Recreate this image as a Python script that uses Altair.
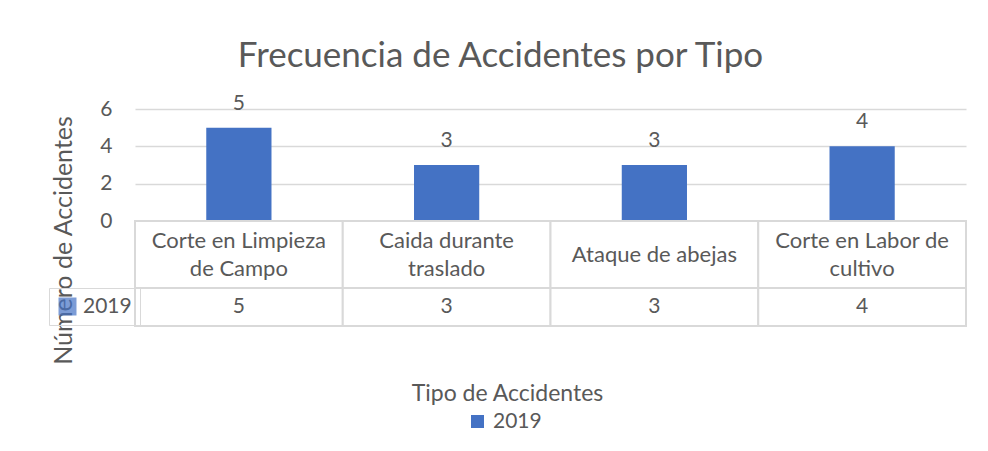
import altair as alt
import pandas as pd

# ---- data ----
categories = [
    "Corte en Limpieza de Campo",
    "Caida durante traslado",
    "Ataque de abejas",
    "Corte en Labor de cultivo",
]
category_lines = [
    "Corte en Limpieza\nde Campo",
    "Caida durante\ntraslado",
    "Ataque de abejas",
    "Corte en Labor de\ncultivo",
]
values_2019 = [5, 3, 3, 4]
series_name = "2019"
y_ticks = [0, 2, 4, 6]

# ---- styles ----
FONT = "Lato"
TEXT = "#595959"
GRID = "#d9d9d9"
BLUE = "#4472C4"
W = 831

df = pd.DataFrame({
    "tipo": categories,
    "etiqueta": category_lines,
    "lineas": [s.count("\n") + 1 for s in category_lines],
    "valor": values_2019,
    "serie": [series_name] * len(categories),
})

x_bars = alt.X("tipo:N", sort=categories,
               scale=alt.Scale(paddingInner=0.686, paddingOuter=0.343), axis=None)
x_cells = alt.X("tipo:N", sort=categories,
                scale=alt.Scale(paddingInner=0, paddingOuter=0), axis=None)
x_cells_axis = alt.X("tipo:N", sort=categories,
                     scale=alt.Scale(paddingInner=0, paddingOuter=0),
                     axis=alt.Axis(title="Tipo de Accidentes", labels=False, ticks=False,
                                   domain=False, grid=False, titleFontSize=23,
                                   titleColor=TEXT, titleFont=FONT, titleFontWeight="normal",
                                   titlePadding=56, titleX=372))

y_bars = alt.Y("valor:Q", scale=alt.Scale(domain=[0, 6]),
               axis=alt.Axis(values=y_ticks, title="Número de Accidentes", grid=True,
                             gridColor=GRID, gridWidth=1.5, domain=False, ticks=False,
                             labelPadding=23, labelFontSize=21, labelColor=TEXT, labelFont=FONT,
                             titleFontSize=25, titleColor=TEXT, titleFont=FONT,
                             titleFontWeight="normal", titleX=-72, titleY=131, titleAngle=270,
                             titleAlign="center", titleBaseline="middle"))

series_scale = alt.Scale(domain=[series_name], range=[BLUE])

# ---- bar chart ----
bars = alt.Chart(df).mark_bar(color=BLUE).encode(
    x=x_bars,
    y=y_bars,
    color=alt.Color("serie:N", scale=series_scale,
                    legend=alt.Legend(title=None, orient="none", legendX=332, legendY=302,
                                      symbolType="square", symbolSize=169, symbolStrokeWidth=0,
                                      labelFontSize=21, labelColor=TEXT, labelFont=FONT,
                                      labelOffset=5, padding=0)),
)
bar_labels = alt.Chart(df).mark_text(fontSize=21, color=TEXT, font=FONT, dy=-24,
                                     baseline="middle").encode(
    x=x_bars, y=y_bars, text=alt.Text("valor:Q"))
bar_chart = alt.layer(bars, bar_labels).properties(width=W, height=112)

# ---- table: header row ----
header_cells = alt.Chart(df).mark_rect(fill="white", stroke=GRID, strokeWidth=2).encode(x=x_cells)
header_text = alt.Chart(df).mark_text(fontSize=22, color=TEXT, font=FONT, lineBreak="\n",
                                      lineHeight=28, baseline="middle").encode(
    x=x_cells,
    # first line moves up by half a line for every extra line of the label
    y=alt.Y("lineas:Q", scale=alt.Scale(domain=[1, 2], range=[33.5, 19.5]), axis=None),
    text="etiqueta:N")
header_row = alt.layer(header_cells, header_text).properties(width=W, height=67)

# ---- table: value row ----
swatch = alt.Chart(df).mark_square(size=100).encode(
    x=x_cells_axis,
    color=alt.Color("serie:N", scale=series_scale,
                    legend=alt.Legend(title=None, orient="none", legendX=-86, legendY=0,
                                      strokeColor=GRID, padding=8, symbolType="square",
                                      symbolSize=324, symbolStrokeWidth=0, labelFontSize=21,
                                      labelColor=TEXT, labelFont=FONT, labelOffset=5)),
)
value_cells = alt.Chart(df).mark_rect(fill="white", stroke=GRID, strokeWidth=2).encode(x=x_cells_axis)
value_text = alt.Chart(df).mark_text(fontSize=21, color=TEXT, font=FONT, baseline="middle").encode(
    x=x_cells_axis, text=alt.Text("valor:Q"))
value_row = alt.layer(swatch, value_cells, value_text).properties(width=W, height=38)

chart = alt.vconcat(
    bar_chart, header_row, value_row,
    spacing=0, bounds="flush",
    title=alt.TitleParams("Frecuencia de Accidentes por Tipo", fontSize=35, font=FONT,
                          color=TEXT, fontWeight="normal", anchor="middle", frame="group",
                          dx=-50, offset=19),
    padding={"left": 40, "top": 30, "right": 5, "bottom": 5},
).resolve_scale(x="independent", color="independent").resolve_legend(
    color="independent"
).configure(font=FONT).configure_view(stroke=None)

chart.save("out.html", embed_options={"renderer": "svg", "actions": False})
